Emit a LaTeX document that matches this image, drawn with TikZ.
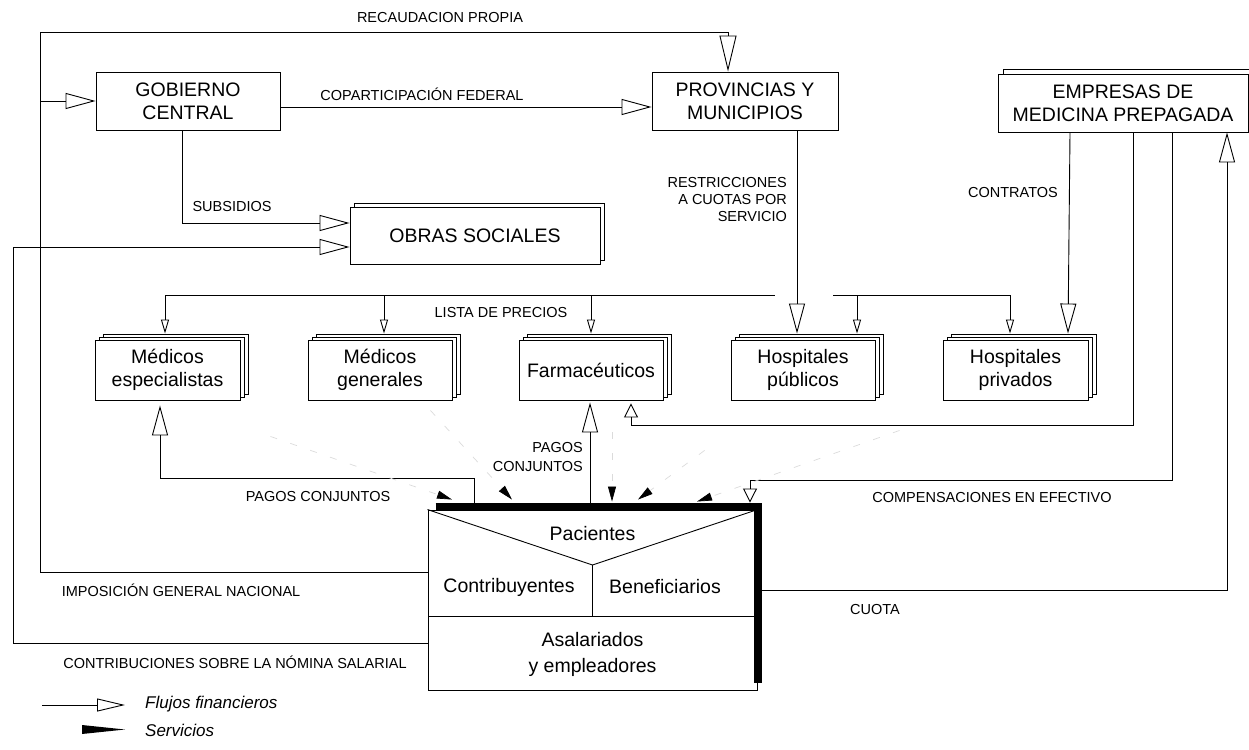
\documentclass[tikz,border=0pt]{standalone}
\usepackage{fontspec}
\setmainfont{Liberation Sans}
\usetikzlibrary{arrows.meta,shadows}
\tikzset{
  box/.style={draw, fill=white, line width=0.9pt, inner sep=0pt, align=center, font=\fontsize{19.5}{23}\selectfont},
  stackbox/.style={box, minimum width=144pt, minimum height=60pt, double copy shadow={shadow xshift=4pt, shadow yshift=3pt}},
  lbl/.style={font=\fontsize{14.5}{17}\selectfont, inner sep=0pt, align=center},
  txt/.style={font=\fontsize{19.5}{26}\selectfont, inner sep=0pt, align=center},
  legtxt/.style={font=\fontsize{17}{20}\selectfont\itshape, inner sep=0pt, anchor=west},
  link/.style={draw, line width=0.9pt},
  fin/.style={link, -{Triangle[open, length=30pt, width=16pt]}},
  finlong/.style={link, -{Triangle[open, length=36pt, width=17pt]}},
  finsmall/.style={link, -{Triangle[open, length=14pt, width=8pt]}},
  finmed/.style={link, -{Triangle[open, length=14pt, width=14pt]}},
  serv/.style={draw=black!14, line width=0.7pt, dash pattern=on 7pt off 14pt, -{Triangle[length=15pt, width=8pt, color=black]}},
}
\begin{document}
\begin{tikzpicture}[x=1pt, y=-1pt, line join=miter]
\useasboundingbox (0,0) rectangle (1249,749);

% main boxes
\node[box, minimum width=184pt, minimum height=58pt] (gob) at (188,101) {GOBIERNO\\CENTRAL};
\node[box, minimum width=186pt, minimum height=58pt] (prov) at (745,101) {PROVINCIAS Y\\MUNICIPIOS};
\node[box, copy shadow={shadow xshift=5pt, shadow yshift=5pt}, minimum width=250pt, minimum height=58pt] (emp) at (1123,103) {EMPRESAS DE\\MEDICINA PREPAGADA};
\node[box, copy shadow={shadow xshift=4pt, shadow yshift=4pt}, minimum width=250pt, minimum height=57pt] (obras) at (475,235.5) {OBRAS SOCIALES};

\node[stackbox, minimum width=145pt] (mesp) at (167.5,370) {M\'edicos\\especialistas};
\node[stackbox] (mgen) at (380,370) {M\'edicos\\generales};
\node[stackbox] (farm) at (591,370) {Farmac\'euticos};
\node[stackbox] (hpub) at (803,370) {Hospitales\\p\'ublicos};
\node[stackbox, minimum width=145pt] (hpriv) at (1015.5,370) {Hospitales\\privados};

% patients box
\node[draw, line width=0.9pt, minimum width=329pt, minimum height=180pt, inner sep=0pt] (pac) at (592.5,600) {};
\coordinate (yc) at (592.5,565);
\coordinate (hl) at (428,616);
\coordinate (hr) at (757,616);
\draw[line width=0.9pt] (pac.north west) -- (yc) -- (pac.north east);
\draw[line width=0.9pt] (yc) -- (yc |- hl);
\draw[line width=0.9pt] (hl) -- (hr);
\draw[line width=8pt] ([xshift=8pt,yshift=3pt]pac.north west) -- ([xshift=1pt,yshift=3pt]pac.north east) -- ([xshift=1pt,yshift=7pt]pac.south east);
\node[txt] (tpac) at (592.5,534) {Pacientes};
\node[txt] (tcon) at (509,587) {Contribuyentes};
\node[txt] (tben) at (665,587) {Beneficiarios};
\node[txt] (tasa) at (592.5,654) {Asalariados\\y empleadores};

% financial flows
\draw[finlong] ([yshift=28pt]pac.west) -- (40,572) -- (40,32) -| ([xshift=-17pt]prov.north);
\draw[fin] (40,101) -- (gob.west);
\draw[fin] ([yshift=-43pt]pac.west) -- (13,643) -- (13,247) -- ([yshift=-11.5pt]obras.west);
\draw[fin] ([yshift=-6pt]gob.east) -- ([yshift=-6pt]gob.east -| prov.west);
\draw[fin] ([xshift=-6pt]gob.south) |- ([yshift=12.5pt]obras.west);
\draw[fin] ([xshift=52pt]prov.south) -- ([xshift=-6pt,yshift=6pt]hpub.north);
\draw[fin] ([xshift=-53pt]emp.south) -- ([xshift=52.5pt,yshift=6pt]hpriv.north);

% lista de precios
\draw[link] (165,295) -- (775,295);
\draw[link] (833,295) -- (1010,295);
\draw[finsmall] (165,295) -- ([xshift=-2.5pt,yshift=6pt]mesp.north);
\draw[finsmall] (384,295) -- ([xshift=4pt,yshift=6pt]mgen.north);
\draw[finsmall] (591,295) -- ([yshift=6pt]farm.north);
\draw[finsmall] (857,295) -- ([xshift=54pt,yshift=6pt]hpub.north);
\draw[finsmall] (1010,295) -- ([xshift=-5.5pt,yshift=6pt]hpriv.north);

\draw[finmed] ([xshift=10pt]emp.south) -- (1133,425) -- (631,425) -- ([xshift=40pt,yshift=-3pt]farm.south);
\draw[finmed] ([xshift=49pt]emp.south) -- (1172,480) -- (750,480) -- ([xshift=157.5pt,yshift=7pt]pac.north);
\draw[fin] ([yshift=10pt]pac.east) -- (1227,590) -- ([xshift=104pt]emp.south);
\draw[fin] ([xshift=-118.5pt]pac.north) -- (474,478) -- (160,478) -- ([xshift=-7.5pt,yshift=-5pt]mesp.south);
\draw[fin] ([xshift=-2.5pt]pac.north) -- ([xshift=-1pt,yshift=-2pt]farm.south);

% services
\draw[serv] ([xshift=30pt,yshift=-36pt]mesp.south east) -- ([xshift=-140.5pt,yshift=10pt]pac.north);
\draw[serv] ([xshift=-22pt,yshift=-10pt]mgen.south east) -- ([xshift=-80.5pt,yshift=10pt]pac.north);
\draw[serv] ([xshift=21pt,yshift=-32pt]farm.south) -- ([xshift=19.5pt,yshift=8pt]pac.north);
\draw[serv] ([xshift=-26pt,yshift=-50pt]hpub.south west) -- ([xshift=45.5pt,yshift=10pt]pac.north);
\draw[serv] ([xshift=-43pt,yshift=-30pt]hpriv.south west) -- ([xshift=104.5pt,yshift=8pt]pac.north);

% labels
\node[lbl] (lrec) at (440,18) {RECAUDACION PROPIA};
\node[lbl] (lcop) at (422,94) {COPARTICIPACI\'ON FEDERAL};
\node[lbl] (lsub) at (232,207) {SUBSIDIOS};
\node[lbl, anchor=east, align=right] (lres) at (787,200) {RESTRICCIONES\\A CUOTAS POR\\SERVICIO};
\node[lbl, anchor=east] (lcontr) at (1058,193) {CONTRATOS};
\node[lbl] (llis) at (501,313) {LISTA DE PRECIOS};
\node[lbl] (lpag1) at (318,497) {PAGOS CONJUNTOS};
\node[lbl, anchor=east, align=right, font=\fontsize{14.5}{19}\selectfont] (lpag2) at (583,457) {PAGOS\\CONJUNTOS};
\node[lbl] (lcomp) at (992,498) {COMPENSACIONES EN EFECTIVO};
\node[lbl] (lcuo) at (875,610) {CUOTA};
\node[lbl] (limp) at (181,590) {IMPOSICI\'ON GENERAL NACIONAL};
\node[lbl] (lcon) at (235,662) {CONTRIBUCIONES SOBRE LA N\'OMINA SALARIAL};

% legend
\coordinate (lga) at (42,705);
\coordinate (lgb) at (125,705);
\draw[link, -{Triangle[open, length=28pt, width=13pt]}] (lga) -- (lgb);
\node[legtxt] (lgt1) at (145,704) {Flujos financieros};
\fill (82,725) -- (125,729.5) -- (82,734) -- cycle;
\node[legtxt] (lgt2) at (145,730) {Servicios};
\end{tikzpicture}
\end{document}
